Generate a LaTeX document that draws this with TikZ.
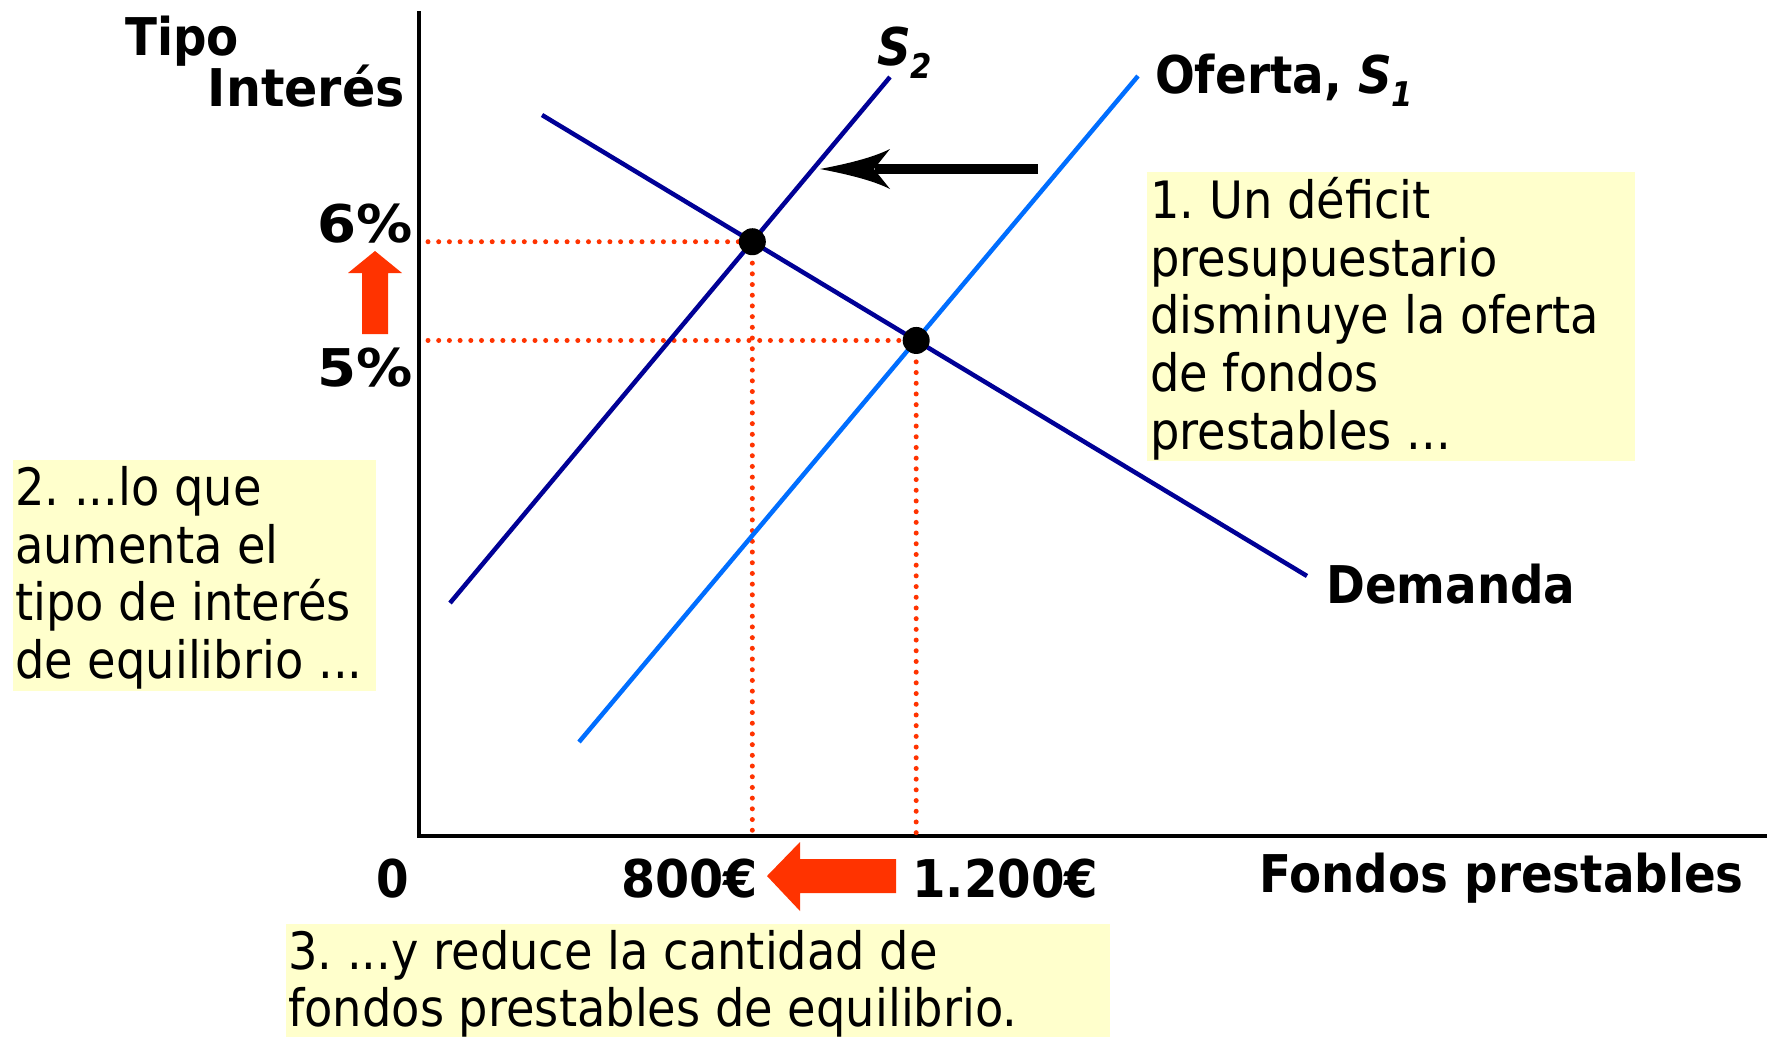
\documentclass[tikz,border=0pt]{standalone}
\usepackage{fontspec}
\setmainfont{DejaVu Sans}[FakeStretch=0.9]
\usetikzlibrary{calc}
\definecolor{dblue}{RGB}{0,0,150}
\definecolor{lblue}{RGB}{0,110,255}
\definecolor{redor}{RGB}{255,51,0}
\definecolor{noteyel}{RGB}{255,255,204}
\frenchspacing
\begin{document}
\begin{tikzpicture}[x=1pt,y=-1pt,
  axis/.style={line width=4.5pt,black},
  curve/.style={line width=4.5pt},
  guide/.style={redor,line width=5pt,line cap=round,dash pattern=on 0pt off 10.7pt},
  lbl/.style={inner sep=0pt,font=\bfseries\fontsize{52}{60}\selectfont},
  note/.style={fill=noteyel,draw=none,inner sep=0pt},
  notetext/.style={inner sep=0pt,align=left,font=\fontsize{51.5}{57.6}\selectfont},
  eqdot/.style={circle,fill=black,inner sep=0pt,minimum size=27pt},
  blockarrow/.style={fill=redor,draw=none}]
\useasboundingbox (0,0) rectangle (1767,1037);
\fill[white] (0,0) rectangle (1767,1037);

% note boxes
\node[note,minimum width=488pt,minimum height=289pt,anchor=north west] (box1) at (1147,172) {};
\node[note,minimum width=363pt,minimum height=231pt,anchor=north west] (box2) at (13,460) {};
\node[note,minimum width=824pt,minimum height=113pt,anchor=north west] (box3) at (286,924) {};
\node[notetext,anchor=west] (t1) at ([xshift=3pt,yshift=-2pt]box1.west) {1. Un déficit\\presupuestario\\disminuye la oferta\\de fondos\\prestables ...};
\node[notetext,anchor=west] (t2) at ([xshift=2pt,yshift=-2pt]box2.west) {2. ...lo que\\aumenta el\\tipo de interés\\de equilibrio ...};
\node[notetext,anchor=west] (t3) at ([xshift=2pt,yshift=-3pt]box3.west) {3. ...y reduce la cantidad de\\fondos prestables de equilibrio.};

% axes
\coordinate (O) at (419,836);
\coordinate (Ytop) at (419,11);
\coordinate (Xend) at (1767,836);
\draw[axis] (Ytop) -- (O) -- (Xend);

% curves end points
\coordinate (D1) at (542,115);
\coordinate (D2) at (1307,576);
\coordinate (A1) at (450,603);
\coordinate (A2) at (890,77);
\coordinate (B1) at (579,742);
\coordinate (B2) at (1138,76);
\coordinate (E2) at (intersection of D1--D2 and A1--A2);
\coordinate (E1) at (intersection of D1--D2 and B1--B2);

% guides
\draw[guide] ([xshift=9pt]O |- E2) -- (E2);
\draw[guide] ([xshift=9pt]O |- E1) -- (E1);
\draw[guide] (E2) -- (E2 |- O);
\draw[guide] (E1) -- (E1 |- O);

% curves
\draw[curve,lblue] (B1) -- (B2);
\draw[curve,dblue] (A1) -- (A2);
\draw[curve,dblue] (D1) -- (D2);

\node[eqdot] (dot2) at (E2) {};
\node[eqdot] (dot1) at (E1) {};

% shift arrow
\coordinate (sh1) at (1038,169);
\coordinate (sh2) at (875,169);
\draw[line width=10pt,black] (sh1) -- (sh2);
\fill[black] (820,169) .. controls (846,164) and (872,158) .. (890,149)
  -- (874,169) -- (890,189) .. controls (872,180) and (846,174) .. (820,169) -- cycle;

% red block arrows
\fill[blockarrow] (362,334) -- (362,273) -- (348,273) -- (375,251) -- (402,273) -- (388,273) -- (388,334) -- cycle;
\fill[blockarrow] (896,859) -- (800,859) -- (800,842) -- (767,876) -- (800,911) -- (800,893) -- (896,893) -- cycle;

% labels
\node[lbl,anchor=base west] (tipo) at (125,55) {Tipo};
\node[lbl,anchor=base east] (interes) at (405,106) {\scalebox{1.05}[1]{Interés}};
\node[lbl,anchor=base east] (six) at (413,242) {\scalebox{1.2}[1]{6\%}};
\node[lbl,anchor=base east] (five) at (413,386) {\scalebox{1.2}[1]{5\%}};
\node[lbl,anchor=base west] (zero) at (376,897) {0};
\node[lbl,anchor=base east] (q2) at (758,897) {\scalebox{1.05}[1]{800€}};
\node[lbl,anchor=base west] (q1) at (912,897) {\scalebox{1.03}[1]{1.200€}};
\node[lbl,anchor=base west] (xlab) at (1259,892) {Fondos prestables};
\node[lbl,anchor=base west] (dlab) at (1326,603) {Demanda};
\node[lbl,anchor=base west] (s2lab) at (877,65) {\itshape S\raisebox{-13pt}{\fontsize{34}{34}\selectfont 2}};
\node[lbl,anchor=base west] (s1lab) at (1155,93) {Oferta, {\itshape S\raisebox{-13pt}{\fontsize{34}{34}\selectfont 1}}};
\end{tikzpicture}
\end{document}
